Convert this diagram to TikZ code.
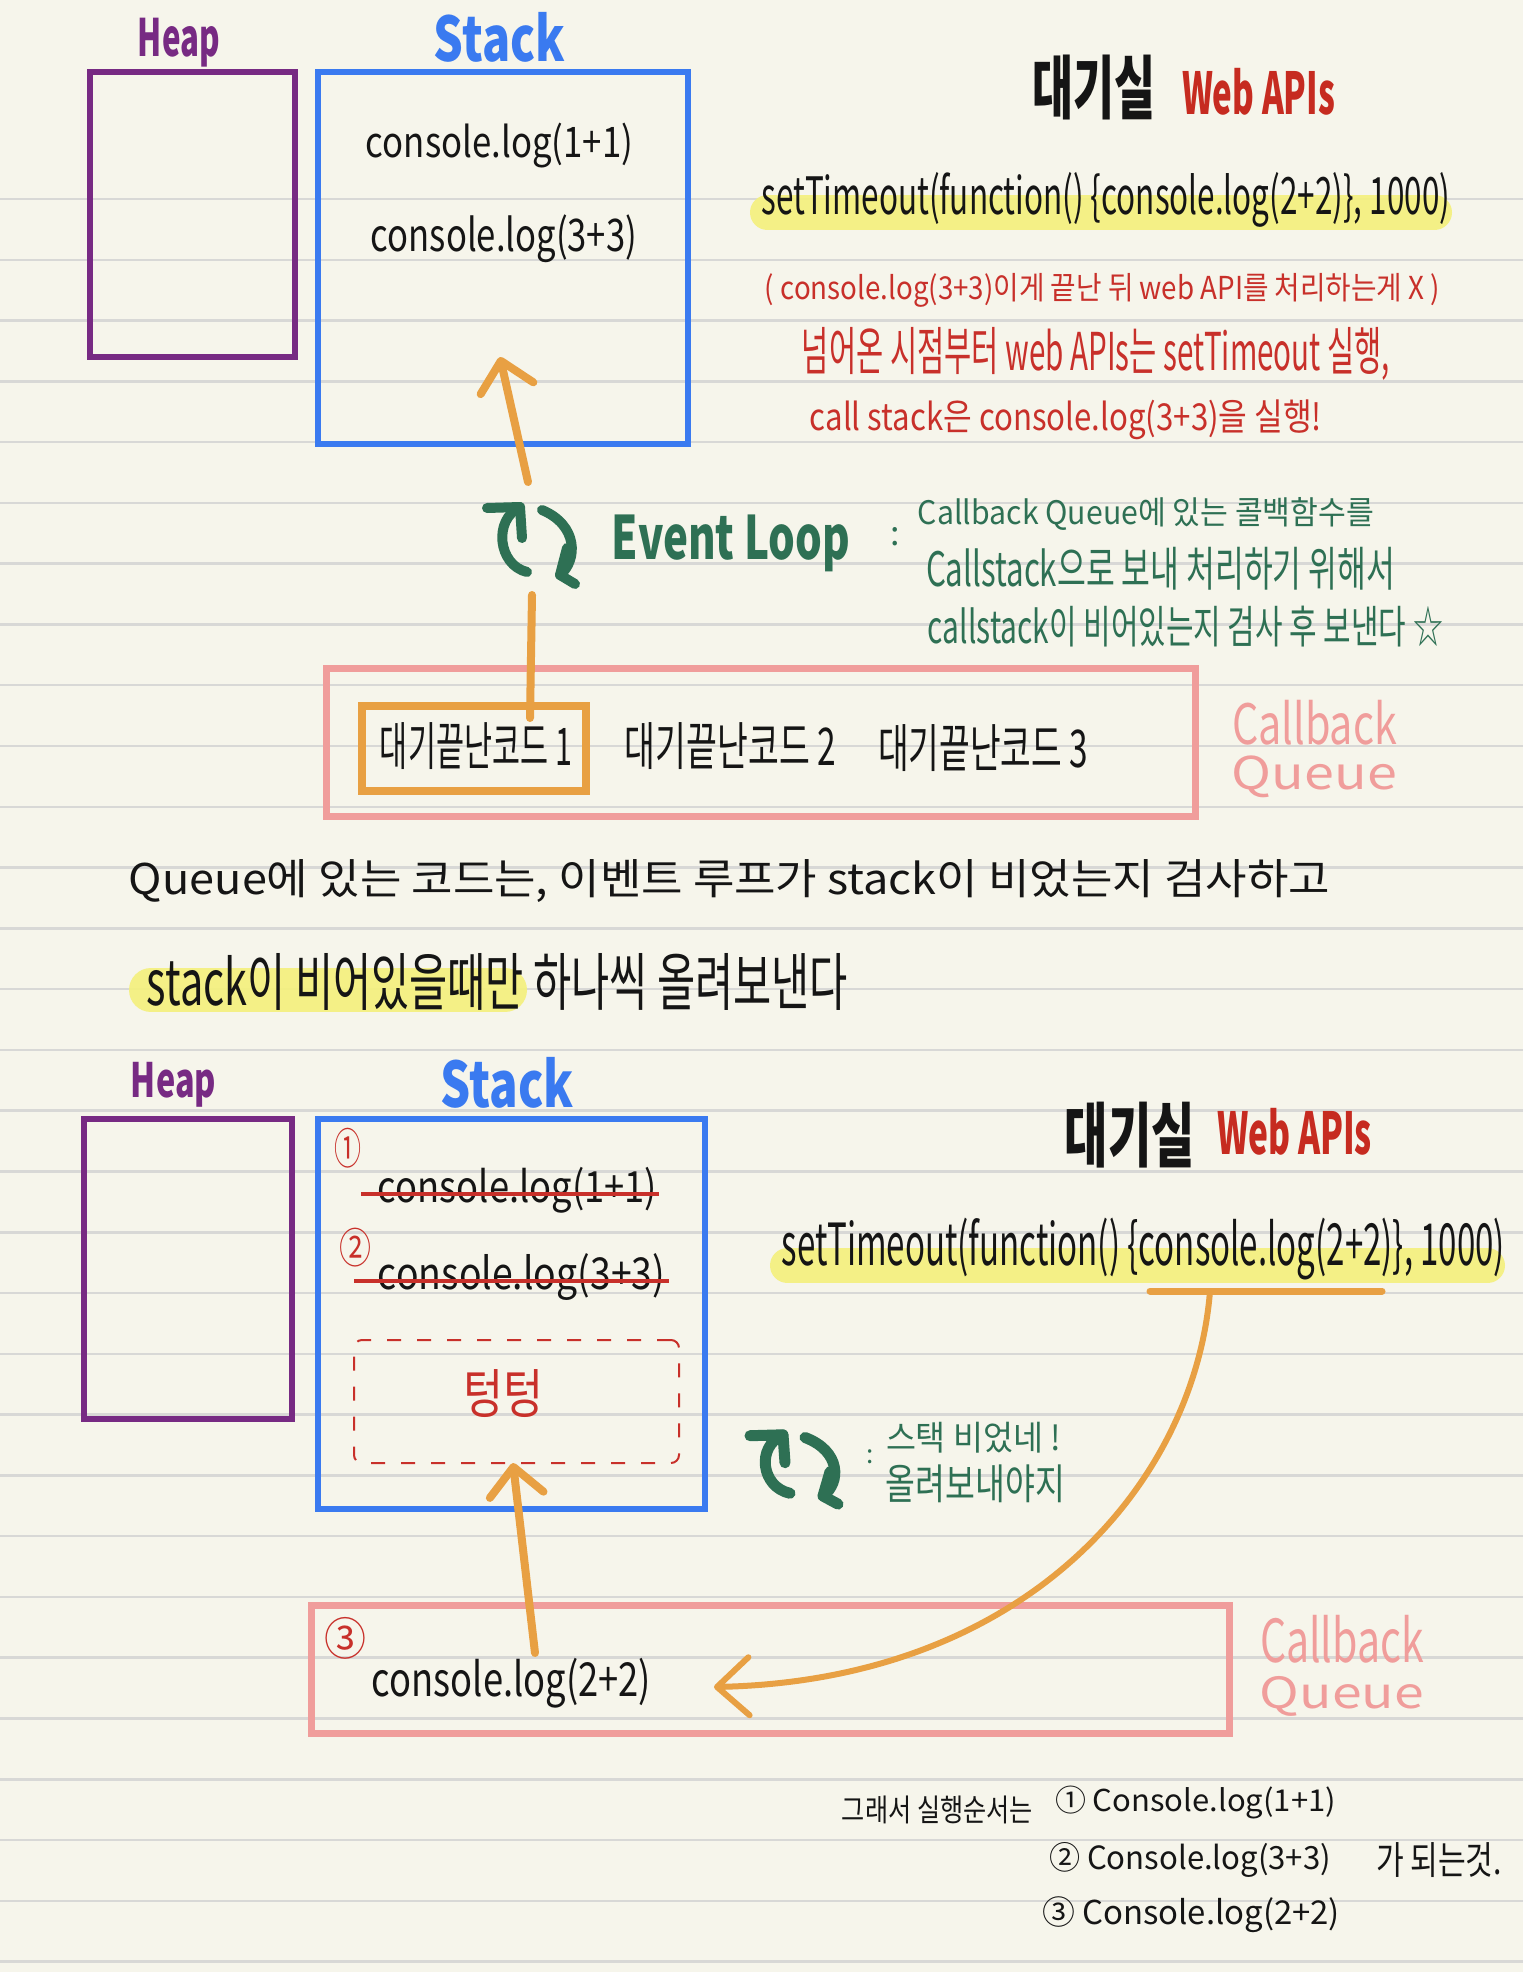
\documentclass[tikz,border=0pt]{standalone}
\usepackage{fontspec}
\usepackage{graphicx}
\setmainfont{Noto Sans CJK KR}
\usetikzlibrary{arrows.meta}
\definecolor{bg}{HTML}{F6F5EB}
\definecolor{rulec}{HTML}{D8D8D6}
\definecolor{heapc}{HTML}{772A83}
\definecolor{stackc}{HTML}{3A7AF0}
\definecolor{orc}{HTML}{E8A043}
\definecolor{pinkc}{HTML}{F09D9B}
\definecolor{elg}{HTML}{2E7054}
\definecolor{redc}{HTML}{C8302A}
\definecolor{webred}{HTML}{C62B20}
\definecolor{hly}{HTML}{F4F07E}
\definecolor{ink}{HTML}{151515}
\newcommand{\fitt}[3]{\resizebox*{#1pt}{#2pt}{#3}}
\tikzset{
  cyc/.pic={
    \draw (-6,27) .. controls (-35,20) and (-40,-25) .. (-13,-38);
    \draw (-46,-37) -- (-13,-38) -- (-11,-7);
    \draw (9,-35) .. controls (45,-20) and (45,15) .. (27,30);
    \draw (34,3) -- (27,30) -- (42,39);
  }
}
\begin{document}
\begin{tikzpicture}[x=1pt,y=-1pt,
  txt/.style={inner sep=0pt, outer sep=0pt, text=ink},
  heapbox/.style={draw=heapc, line width=6pt, inner sep=0pt},
  stackbox/.style={draw=stackc, line width=6pt, inner sep=0pt},
  qbox/.style={draw=pinkc, line width=7pt, inner sep=0pt},
  obox/.style={draw=orc, line width=8pt, inner sep=0pt},
  dbox/.style={draw=redc, line width=2pt, dash pattern=on 14pt off 16pt, rounded corners=8pt, inner sep=0pt},
  hl/.style={draw=hly, line width=35pt, line cap=round, opacity=.92},
  rule/.style={draw=rulec, line width=2.5pt},
  oarrow/.style={draw=orc, line width=8pt, line cap=round, -{Straight Barb[length=28pt,width=54pt,round]}},
  oline/.style={draw=orc, line width=8pt, line cap=round},
  strike/.style={draw=redc, line width=4pt},
  loopic/.style={color=elg, line width=10pt, line cap=round, line join=round}
]
% background
\fill[bg] (0,0) rectangle (1523,1972);
\useasboundingbox (0,0) rectangle (1523,1972);
\foreach \k in {0,...,29} \draw[rule] (0,{199+60.78*\k}) -- (1523,{199+60.78*\k});

% highlights
\draw[hl] (767.5,212.5) -- (1434.5,212.5);
\draw[hl, line width=44pt] (151,990) -- (505,990);
\draw[hl] (787.5,1265.5) -- (1487.5,1265.5);

% ===== TOP =====
\node[heapbox, minimum width=205pt, minimum height=285pt] (heapA) at (192.5,214.5) {};
\node[stackbox, minimum width=370pt, minimum height=372pt] (stackA) at (503,258) {};
\node[txt, text=heapc] (heapLA) at (179,42.5) {\fitt{82}{49}{\bfseries Heap}};
\node[txt, text=stackc] (stackLA) at (499.5,37) {\fitt{131}{50}{\bfseries Stack}};
\node[txt] (cl11a) at (499.5,145.5) {\fitt{267}{45}{console.log(1+1)}};
\node[txt] (cl33a) at (504,239) {\fitt{266}{48}{console.log(3+3)}};

\node[txt] (dgsA) at (1093.5,87.5) {\fitt{123}{65}{\bfseries 대기실}};
\node[txt, text=webred] (webA) at (1258.5,91.5) {\fitt{153}{47}{\bfseries Web APIs}};
\node[txt] (stA) at (1106,199.5) {\fitt{688}{55}{setTimeout(function() \{console.log(2+2)\}, 1000)}};
\node[txt, text=redc] (r1) at (1102.5,290) {\fitt{675}{34}{( console.log(3+3)이게 끝난 뒤 web API를 처리하는게 X )}};
\node[txt, text=redc] (r2) at (1096,353.5) {\fitt{588}{53}{넘어온 시점부터 web APIs는 setTimeout 실행,}};
\node[txt, text=redc] (r3) at (1066,420) {\fitt{512}{40}{call stack은 console.log(3+3)을 실행!}};

% event loop
\pic[loopic] (loopA) at (533,545) {cyc};
\node[txt, text=elg] (evA) at (731,543.5) {\fitt{238}{57}{\bfseries Event Loop}};
\node[txt, text=elg, font=\fontsize{34}{34}\selectfont] (colA) at (895,537) {:};
\node[txt, text=elg] (g1) at (1146,513.5) {\fitt{456}{33}{Callback Queue에 있는 콜백함수를}};
\node[txt, text=elg] (g2) at (1160.5,568.5) {\fitt{469}{43}{Callstack으로 보내 처리하기 위해서}};
\node[txt, text=elg] (g3) at (1185.5,626.5) {\fitt{515}{41}{callstack이 비어있는지 검사 후 보낸다 ☆}};

% callback queue top
\node[qbox, minimum width=869pt, minimum height=148pt] (cbqA) at (761,742.5) {};
\node[obox, minimum width=224pt, minimum height=85pt] (itemA) at (474,748.5) {};
\node[txt] (q1) at (476,746.5) {\fitt{192}{47}{대기끝난코드 1}};
\node[txt] (q2) at (730.5,746.5) {\fitt{211}{47}{대기끝난코드 2}};
\node[txt] (q3) at (983,748.5) {\fitt{210}{47}{대기끝난코드 3}};
\node[txt, text=pinkc] (cbLA) at (1314.5,722.5) {\fitt{165}{45}{Callback}};
\node[txt, text=pinkc] (quLA) at (1314.5,777) {\fitt{165}{42}{Queue}};

% orange connectors top
\coordinate (a1s) at (528,482);
\coordinate (a1e) at (500,357);
\draw[oarrow] (a1s) -- (a1e);
\coordinate (l1s) at (532,595);
\coordinate (l1e) at (530,718);
\draw[oline] (l1s) -- (l1e);

% middle text
\node[txt] (bl1) at (729.5,881.5) {\fitt{1201}{43}{Queue에 있는 코드는, 이벤트 루프가 stack이 비었는지 검사하고}};
\node[txt] (bl2) at (497.5,981.5) {\fitt{701}{57}{stack이 비어있을때만 하나씩 올려보낸다}};

% ===== BOTTOM =====
\node[heapbox, minimum width=208pt, minimum height=300pt] (heapB) at (188,1269) {};
\node[stackbox, minimum width=387pt, minimum height=390pt] (stackB) at (511.5,1314) {};
\node[txt, text=heapc] (heapLB) at (173.5,1084.5) {\fitt{85}{45}{\bfseries Heap}};
\node[txt, text=stackc] (stackLB) at (507.5,1082.5) {\fitt{133}{51}{\bfseries Stack}};
\node[txt, text=redc] (n1) at (347.5,1148) {\fitt{27}{40}{①}};
\node[txt, text=redc] (n2) at (355,1247.5) {\fitt{32}{39}{②}};
\node[txt] (cl11b) at (517.5,1190) {\fitt{279}{46}{console.log(1+1)}};
\node[txt] (cl33b) at (521.5,1276.5) {\fitt{287}{47}{console.log(3+3)}};
\coordinate (s1a) at (361,1194); \coordinate (s1b) at (659,1194);
\coordinate (s2a) at (354,1281); \coordinate (s2b) at (669,1281);
\draw[strike] (s1a) -- (s1b);
\draw[strike] (s2a) -- (s2b);
\node[dbox, minimum width=325pt, minimum height=123pt] (emptyB) at (516.5,1401.5) {};
\node[txt, text=redc] (tt) at (503,1394) {\fitt{80}{48}{텅텅}};

\node[txt] (dgsB) at (1130,1135) {\fitt{130}{66}{\bfseries 대기실}};
\node[txt, text=webred] (webB) at (1294.5,1131.5) {\fitt{155}{47}{\bfseries Web APIs}};
\node[txt] (stB) at (1143.5,1249) {\fitt{723}{62}{setTimeout(function() \{console.log(2+2)\}, 1000)}};
\coordinate (ulA) at (1150,1291);
\coordinate (ulB) at (1382,1291);
\draw[draw=orc, line width=7pt, line cap=round] (ulA) -- (ulB);

\pic[loopic, line width=11pt, yscale=0.9] (loopB) at (796,1469) {cyc};
\node[txt, text=elg, font=\fontsize{26}{26}\selectfont] (colB) at (870,1457) {:};
\node[txt, text=elg] (gb1) at (973.5,1437.5) {\fitt{175}{31}{스택 비었네 !}};
\node[txt, text=elg] (gb2) at (975.5,1484) {\fitt{179}{38}{올려보내야지}};

\node[qbox, minimum width=918pt, minimum height=128pt] (cbqB) at (770.5,1669.5) {};
\node[txt, text=redc] (n3) at (345,1638) {\fitt{42}{42}{③}};
\node[txt] (cl22) at (511.5,1683) {\fitt{279}{50}{console.log(2+2)}};
\node[txt, text=pinkc] (cbLB) at (1342,1639) {\fitt{164}{48}{Callback}};
\node[txt, text=pinkc] (quLB) at (1342,1696) {\fitt{164}{40}{Queue}};

% orange connectors bottom
\coordinate (a2s) at (535,1653);
\coordinate (a2e) at (513,1463);
\draw[oarrow] (a2s) -- (a2e);
\coordinate (cvs) at (1210,1291);
\coordinate (cve) at (714,1687);
\draw[draw=orc, line width=6pt, line cap=round, -{Straight Barb[length=32pt,width=58pt,round]}]
  (cvs) .. controls (1195,1480) and (1030,1680) .. (cve);

% summary
\node[txt] (f0) at (937.5,1809.5) {\fitt{191}{28}{그래서 실행순서는}};
\node[txt] (f1) at (1195.5,1802.5) {\fitt{281}{33}{① Console.log(1+1)}};
\node[txt] (f2) at (1190,1859.5) {\fitt{282}{35}{② Console.log(3+3)}};
\node[txt] (f2b) at (1439,1860) {\fitt{126}{35}{가 되는것.}};
\node[txt] (f3) at (1191,1915) {\fitt{298}{36}{③ Console.log(2+2)}};
\end{tikzpicture}
\end{document}
